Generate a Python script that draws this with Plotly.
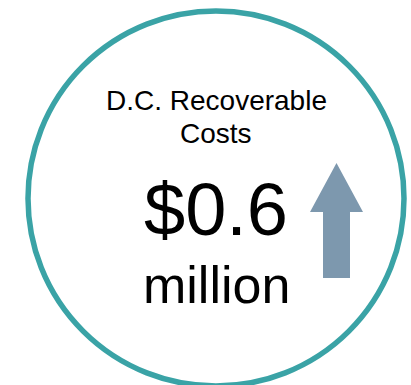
import plotly.graph_objects as go

# Headline figure
title_lines = ["D.C. Recoverable", "Costs"]
value_millions = 0.6
unit_label = "million"
trend = "up"

W, H = 411, 385
TEAL = "#3aa3a6"
ARROW = "#7d98ae"
FONT = "Liberation Sans, Arial, sans-serif"

fig = go.Figure()

# Ring
cx, cy, rx, ry = 216, 198.5, 188, 187.5
fig.add_shape(type="circle", xref="x", yref="y",
              x0=cx - rx, x1=cx + rx, y0=cy - ry, y1=cy + ry,
              line=dict(color=TEAL, width=5.5), fillcolor="rgba(0,0,0,0)")

# Trend arrow
if trend == "up":
    ax, tip, base, bottom = 336.5, 163, 212, 278
    hw, sw = 26.5, 13.5
    path = (f"M {ax},{tip} L {ax + hw},{base} L {ax + sw},{base} L {ax + sw},{bottom} "
            f"L {ax - sw},{bottom} L {ax - sw},{base} L {ax - hw},{base} Z")
    fig.add_shape(type="path", xref="x", yref="y", path=path,
                  fillcolor=ARROW, line=dict(width=0))

# Title, one annotation per line
for i, line in enumerate(title_lines):
    fig.add_annotation(x=216, y=100 + 33 * i, xref="x", yref="y", showarrow=False,
                       text=line, font=dict(family=FONT, size=28, color="black"))

fig.add_annotation(x=216, y=209, xref="x", yref="y", showarrow=False,
                   text=f"${value_millions:.1f}",
                   font=dict(family=FONT, size=74, color="black"))
fig.add_annotation(x=216, y=285, xref="x", yref="y", showarrow=False,
                   text=unit_label,
                   font=dict(family=FONT, size=52, color="black"))

fig.update_xaxes(range=[0, W], visible=False, fixedrange=True)
fig.update_yaxes(range=[H, 0], visible=False, fixedrange=True)
fig.update_layout(width=W, height=H, margin=dict(l=0, r=0, t=0, b=0),
                  paper_bgcolor="white", plot_bgcolor="white", showlegend=False)

fig.write_html("out.html", config={"displayModeBar": False})
